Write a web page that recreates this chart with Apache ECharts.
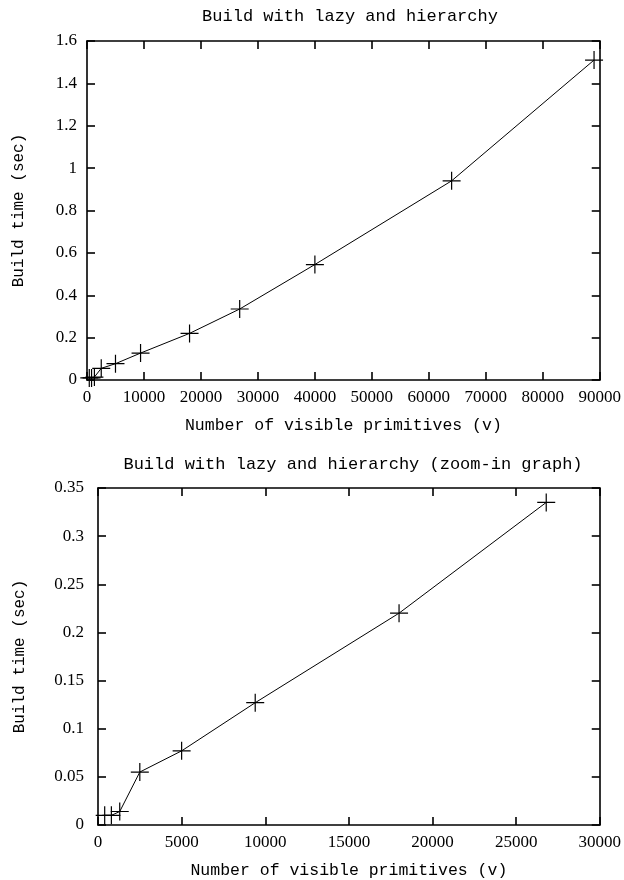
<!DOCTYPE html>
<html>
<head>
<meta charset="utf-8">
<script src="https://cdn.jsdelivr.net/npm/echarts@6/dist/echarts.min.js"></script>
<style>html,body{margin:0;padding:0;background:#fff}#c{width:624px;height:880px}</style>
</head>
<body>
<div id="c"></div>
<script>
const primitives = [400, 800, 1300, 2500, 5000, 9400, 18000, 26800, 40000, 64000, 89000];
const buildTime = [0.010, 0.010, 0.014, 0.055, 0.077, 0.127, 0.220, 0.335, 0.545, 0.940, 1.510];
const zoomPrimitives = [400, 800, 1300, 2500, 5000, 9400, 18000, 26800];
const zoomBuildTime = [0.010, 0.010, 0.014, 0.055, 0.077, 0.127, 0.220, 0.335];
const titles = ['Build with lazy and hierarchy', 'Build with lazy and hierarchy (zoom-in graph)'];
const xName = 'Number of visible primitives (v)';
const yName = 'Build time (sec)';

const mono = '"Liberation Mono", "DejaVu Sans Mono", monospace';
const serif = '"Liberation Serif", "DejaVu Serif", serif';
const fmt = v => String(+(+v).toFixed(2));

function baseAxis(gi, max, interval) {
  return {
    gridIndex: gi, type: 'value', min: 0, max: max, interval: interval,
    axisLine: {show: true, onZero: false, lineStyle: {color: '#000', width: 1.6}},
    axisTick: {show: true, inside: true, length: 8, lineStyle: {color: '#000', width: 1.6}},
    splitLine: {show: false}
  };
}
function xAxisPair(gi, max, interval) {
  return [
    Object.assign(baseAxis(gi, max, interval), {
      position: 'bottom',
      axisLabel: {color: '#000', fontFamily: serif, fontSize: 17, margin: 9, formatter: fmt},
      name: xName, nameLocation: 'middle', nameGap: 37,
      nameTextStyle: {color: '#000', fontFamily: mono, fontSize: 16.5}
    }),
    Object.assign(baseAxis(gi, max, interval), {position: 'top', axisLabel: {show: false}})
  ];
}
function yAxisPair(gi, max, interval, gap, margin) {
  return [
    Object.assign(baseAxis(gi, max, interval), {
      position: 'left',
      axisLabel: {color: '#000', fontFamily: serif, fontSize: 17, margin: margin, formatter: fmt},
      name: yName, nameLocation: 'middle', nameGap: gap, nameRotate: 90,
      nameTextStyle: {color: '#000', fontFamily: mono, fontSize: 16}
    }),
    Object.assign(baseAxis(gi, max, interval), {position: 'right', axisLabel: {show: false}})
  ];
}

const plus = 'path://M0,-1L0,1M-1,0L1,0';
function series(xi, yi, xs, ys) {
  return {
    type: 'line', xAxisIndex: xi, yAxisIndex: yi,
    data: xs.map((x, i) => [x, ys[i]]),
    symbol: plus, symbolSize: 18, showSymbol: true,
    lineStyle: {color: '#000', width: 1},
    itemStyle: {color: 'rgba(0,0,0,0)', borderColor: '#000', borderWidth: 1.2},
    animation: false, silent: true
  };
}

const chart = echarts.init(document.getElementById('c'), null, {renderer: 'canvas'});
chart.setOption({
  backgroundColor: '#fff',
  animation: false,
  title: [
    {text: titles[0], left: 345, top: 3, textAlign: 'center',
     textStyle: {color: '#000', fontFamily: mono, fontSize: 17, fontWeight: 'normal'}},
    {text: titles[1], left: 348, top: 451, textAlign: 'center',
     textStyle: {color: '#000', fontFamily: mono, fontSize: 17, fontWeight: 'normal'}}
  ],
  grid: [
    {left: 87, right: 21, top: 41, height: 339},
    {left: 98, right: 19, top: 488, height: 338}
  ],
  xAxis: [].concat(xAxisPair(0, 90000, 10000), xAxisPair(1, 30000, 5000)),
  yAxis: [].concat(yAxisPair(0, 1.6, 0.2, 60, 10), yAxisPair(1, 0.35, 0.05, 70, 14)),
  series: [
    series(0, 0, primitives, buildTime),
    series(2, 2, zoomPrimitives, zoomBuildTime)
  ]
});
</script>
</body>
</html>
